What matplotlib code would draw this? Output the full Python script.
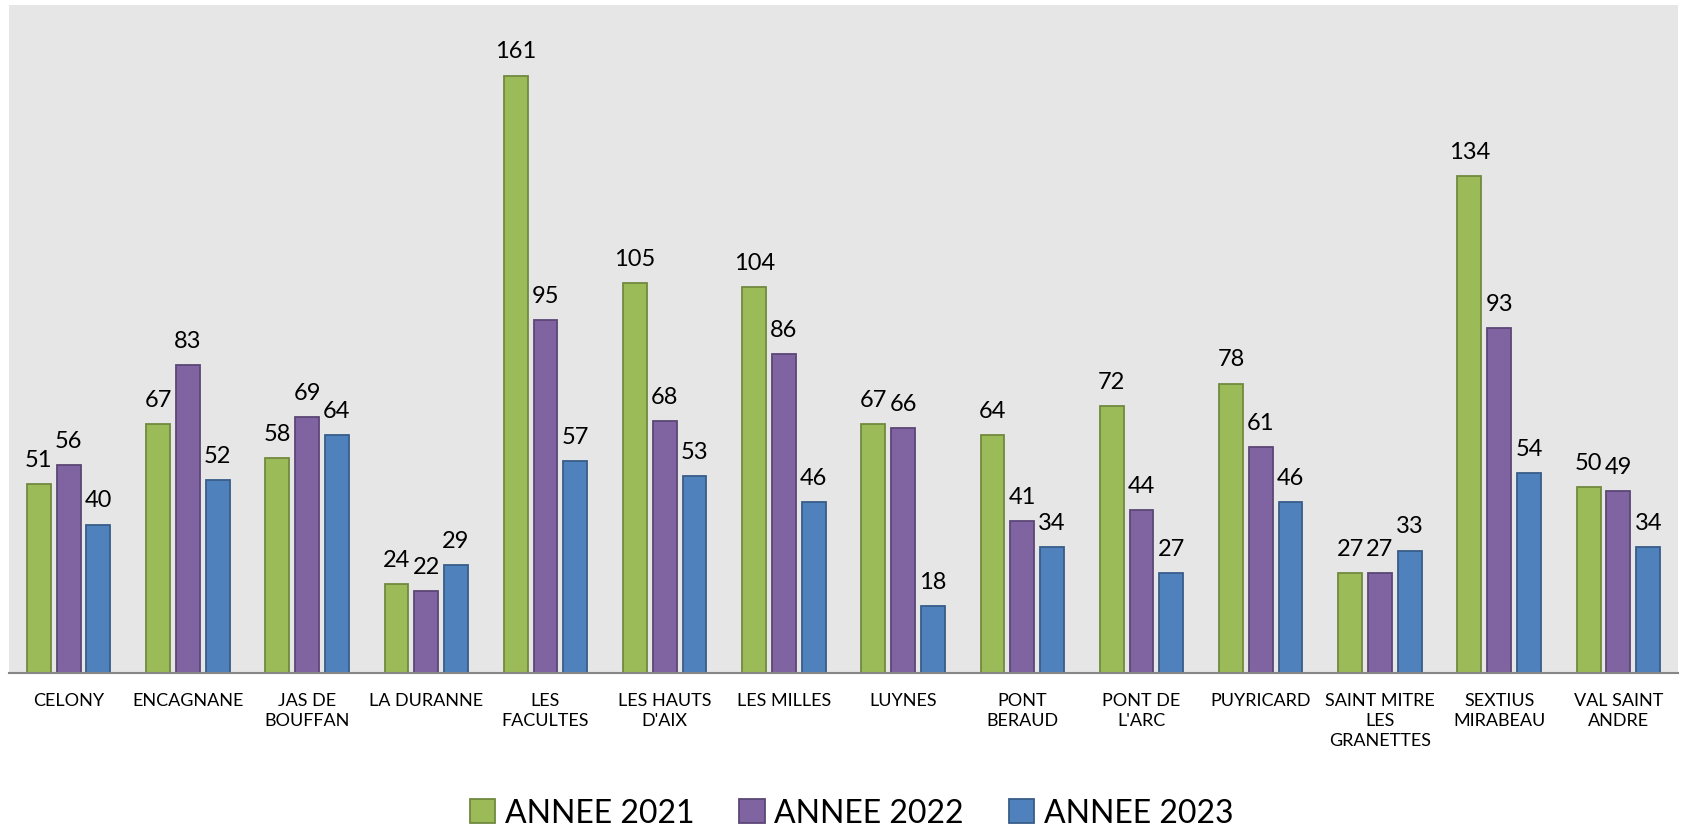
import matplotlib
matplotlib.use("Agg")
import matplotlib.pyplot as plt
import numpy as np

categories = ["CELONY", "ENCAGNANE", "JAS DE\nBOUFFAN", "LA DURANNE", "LES\nFACULTES",
              "LES HAUTS\nD'AIX", "LES MILLES", "LUYNES", "PONT\nBERAUD", "PONT DE\nL'ARC",
              "PUYRICARD", "SAINT MITRE\nLES\nGRANETTES", "SEXTIUS\nMIRABEAU", "VAL SAINT\nANDRE"]
series_names = ["ANNEE 2021", "ANNEE 2022", "ANNEE 2023"]
annee_2021 = [51, 67, 58, 24, 161, 105, 104, 67, 64, 72, 78, 27, 134, 50]
annee_2022 = [56, 83, 69, 22, 95, 68, 86, 66, 41, 44, 61, 27, 93, 49]
annee_2023 = [40, 52, 64, 29, 57, 53, 46, 18, 34, 27, 46, 33, 54, 34]

face_colors = ["#9BBB59", "#8064A2", "#4F81BD"]
edge_colors = ["#71893F", "#5C4776", "#385D8A"]

plt.rcParams['font.family'] = ['Lato', 'DejaVu Sans']

fig = plt.figure(figsize=(16.83, 8.28), dpi=100)
ax = fig.add_axes([9/1683, 1-674/828, 1669/1683, 668/828])
ax.set_facecolor("#E6E6E6")

x = np.arange(len(categories))
width = 0.2
offsets = [-0.25, 0.0, 0.25]
all_series = [annee_2021, annee_2022, annee_2023]
for vals, name, fc, ec, off in zip(all_series, series_names, face_colors, edge_colors, offsets):
    bars = ax.bar(x + off, vals, width, color=fc, edgecolor=ec, linewidth=1.3, label=name, zorder=3)
    for b, v in zip(bars, vals):
        ax.annotate(str(v), (b.get_x() + b.get_width()/2, b.get_height()),
                    xytext=(0, 13), textcoords="offset points",
                    ha="center", va="baseline", fontsize=17, color="black")

ax.set_xlim(-0.5, len(categories) - 0.5)
ax.set_ylim(0, 180)
ax.set_yticks([])
ax.set_xticks(x)
ax.set_xticklabels(categories, fontsize=13, linespacing=1.3)
ax.tick_params(axis="x", length=0, pad=14)
for s in ["top", "left", "right"]:
    ax.spines[s].set_visible(False)
ax.spines["bottom"].set_color("#868686")
ax.spines["bottom"].set_linewidth(1.5)
ax.spines["bottom"].set_zorder(4)

leg = fig.legend(loc="center", bbox_to_anchor=(0.506, 1-814/828), ncol=3, frameon=False,
                 fontsize=23, handlelength=0.8, handleheight=0.8, handletextpad=0.3,
                 columnspacing=1.4)

fig.savefig("out.png", dpi=100)
